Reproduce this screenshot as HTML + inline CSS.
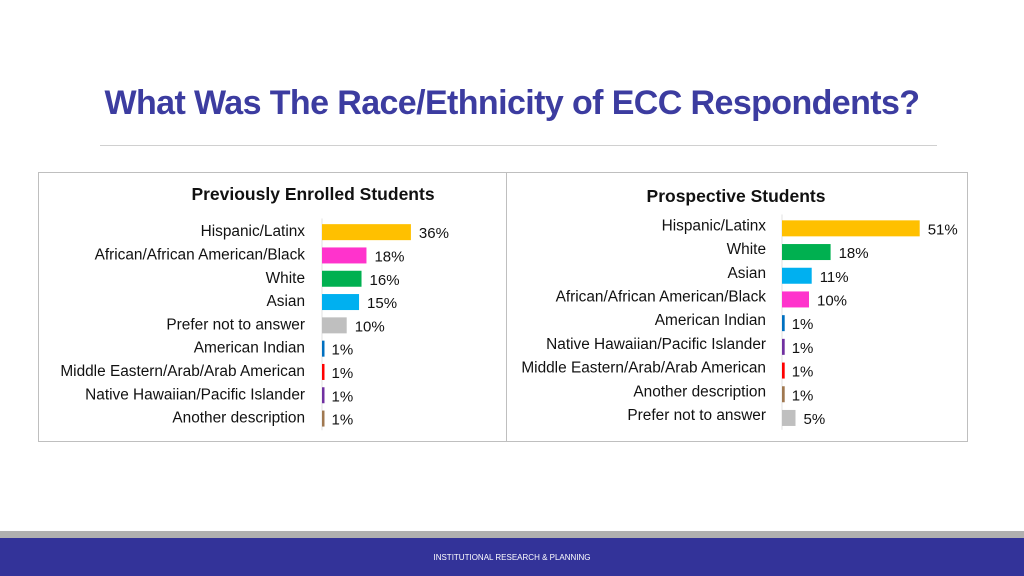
<!DOCTYPE html>
<html><head><meta charset="utf-8"><style>
body{margin:0;width:1024px;height:576px;background:#fff;position:relative;overflow:hidden;font-family:"Liberation Sans",sans-serif}
.title{position:absolute;left:0;width:1024px;top:84px;text-align:center;font-size:34px;font-weight:bold;color:#3c3ca0;letter-spacing:-0.6px}
</style></head><body>
<div class="title">What Was The Race/Ethnicity of ECC Respondents?</div>
<div style="position:absolute;left:100px;top:145px;width:837px;height:1px;background:#d0d0d0"></div>
<div style="position:absolute;left:38px;top:172px;width:928px;height:268px;border:1px solid #bfbfbf"></div>
<div style="position:absolute;left:506px;top:172px;width:1px;height:270px;background:#bfbfbf"></div>
<svg id="svg" width="1024" height="576" style="position:absolute;left:0;top:0"></svg>
<div style="position:absolute;left:0;top:531px;width:1024px;height:7px;background:#b0b0b0"></div>
<div style="position:absolute;left:0;top:538px;width:1024px;height:38px;background:#333399"></div>
<div style="position:absolute;left:0;width:1024px;top:553px;text-align:center;color:#fff;font-size:8px">INSTITUTIONAL RESEARCH &amp; PLANNING</div>
<script>
const leftCats=["Hispanic/Latinx","African/African American/Black","White","Asian","Prefer not to answer","American Indian","Middle Eastern/Arab/Arab American","Native Hawaiian/Pacific Islander","Another description"];
const leftVals=[36,18,16,15,10,1,1,1,1];
const leftColors=["#FFC000","#FF33CC","#00B050","#00B0F0","#BFBFBF","#0070C0","#FF0000","#7030A0","#A07850"];
const rightCats=["Hispanic/Latinx","White","Asian","African/African American/Black","American Indian","Native Hawaiian/Pacific Islander","Middle Eastern/Arab/Arab American","Another description","Prefer not to answer"];
const rightVals=[51,18,11,10,1,1,1,1,5];
const rightColors=["#FFC000","#00B050","#00B0F0","#FF33CC","#0070C0","#7030A0","#FF0000","#A07850","#BFBFBF"];
const svg=document.getElementById('svg');
const NS="http://www.w3.org/2000/svg";
function mk(tag,attrs,text){const e=document.createElementNS(NS,tag);for(const k in attrs)e.setAttribute(k,attrs[k]);if(text!==undefined)e.textContent=text;svg.appendChild(e);return e;}
function chart(o){
  const t=mk('text',{x:o.titleX,y:o.titleY,'text-anchor':'middle','font-size':17.5,'font-weight':'bold',fill:'#111'},o.title);
  
  
  const ax=mk('line',{x1:o.x0,x2:o.x0,y1:o.top-2,y2:o.top+o.step*o.cats.length,stroke:'#e0e0e0'});
  
  
  o.cats.forEach((c,i)=>{
    const cy=o.top+o.step*i+o.step/2;
    const w=Math.max(2.5,o.vals[i]*o.scale);
    const lab=mk('text',{x:o.labelX,y:cy+5+o.labDy,'text-anchor':'end','font-size':15.4,fill:'#111'},c);
    
    
    const r=mk('rect',{x:o.x0,y:cy-8,width:w,height:16,fill:o.colors[i]});
    
    
    const v=mk('text',{x:o.x0+w+(o.vals[i]>1?8:7),y:cy+6,'font-size':15,fill:'#111'},o.vals[i]+'%');
    
    
  });
}
chart({key:'previous',title:'Previously Enrolled Students',titleX:313,titleY:200,cats:leftCats,vals:leftVals,colors:leftColors,x0:322,scale:2.47,top:220.5,step:23.3,labelX:305,labDy:-1});
chart({key:'prospective',title:'Prospective Students',titleX:736,titleY:202,cats:rightCats,vals:rightVals,colors:rightColors,x0:782,scale:2.7,top:216.5,step:23.7,labelX:766,labDy:-3});
</script>
</body></html>
